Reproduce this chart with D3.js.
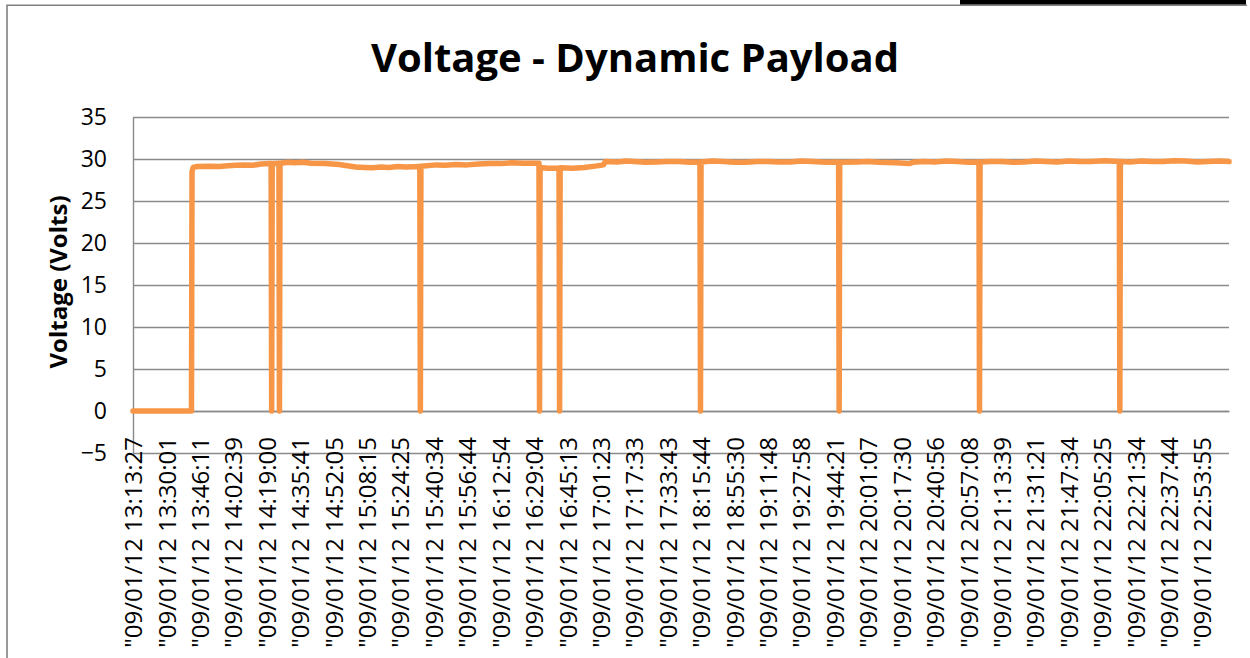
<!DOCTYPE html>
<html>
<head>
<meta charset="utf-8">
<script src="https://cdn.jsdelivr.net/npm/d3@7"></script>
<style>
  html, body { margin: 0; padding: 0; background: #ffffff; }
  svg { display: block; }
  text { font-family: "Open Sans", "Noto Sans", sans-serif; fill: #000; }
</style>
</head>
<body>
<svg id="chart" width="1250" height="658"></svg>
<script>
// ---- data ----
const chartTitle = "Voltage - Dynamic Payload";
const yAxisTitle = "Voltage (Volts)";

// category labels shown on the x axis (one every labelEvery samples)
const timeLabels = [
  '"09/01/12 13:13:27', '"09/01/12 13:30:01', '"09/01/12 13:46:11', '"09/01/12 14:02:39',
  '"09/01/12 14:19:00', '"09/01/12 14:35:41', '"09/01/12 14:52:05', '"09/01/12 15:08:15',
  '"09/01/12 15:24:25', '"09/01/12 15:40:34', '"09/01/12 15:56:44', '"09/01/12 16:12:54',
  '"09/01/12 16:29:04', '"09/01/12 16:45:13', '"09/01/12 17:01:23', '"09/01/12 17:17:33',
  '"09/01/12 17:33:43', '"09/01/12 18:15:44', '"09/01/12 18:55:30', '"09/01/12 19:11:48',
  '"09/01/12 19:27:58', '"09/01/12 19:44:21', '"09/01/12 20:01:07', '"09/01/12 20:17:30',
  '"09/01/12 20:40:56', '"09/01/12 20:57:08', '"09/01/12 21:13:39', '"09/01/12 21:31:21',
  '"09/01/12 21:47:34', '"09/01/12 22:05:25', '"09/01/12 22:21:34', '"09/01/12 22:37:44',
  '"09/01/12 22:53:55'
];
const labelEvery = 60;      // samples between shown category labels
const sampleCount = 1969;   // total samples in the series

const yTicks = [-5, 0, 5, 10, 15, 20, 25, 30, 35];

// voltage readings (sample index -> volts)
const sampleIndex = [
  0, 105, 106, 108, 115, 140, 155, 170, 185, 200, 215, 230, 248, 249, 250, 262, 263, 264,
  280, 290, 305, 320, 345, 370, 385, 400, 415, 430, 445, 460, 475, 490, 515, 516, 517,
  545, 560, 580, 600, 620, 640, 660, 680, 700, 729, 730, 731, 745, 765, 766, 767,
  790, 810, 830, 845, 848, 870, 885, 900, 920, 940, 960, 980, 1000, 1018, 1019, 1020,
  1040, 1060, 1080, 1100, 1120, 1140, 1160, 1180, 1200, 1220, 1245, 1267, 1268, 1269,
  1300, 1320, 1340, 1370, 1394, 1400, 1420, 1440, 1460, 1480, 1500, 1519, 1520, 1521,
  1540, 1560, 1580, 1600, 1620, 1640, 1660, 1680, 1700, 1720, 1745, 1771, 1772, 1773,
  1790, 1810, 1830, 1850, 1870, 1890, 1910, 1930, 1950, 1968
];
const volts = [
  0, 0, 28.5, 29.0, 29.1, 29.15, 29.1, 29.2, 29.25, 29.3, 29.25, 29.4, 29.45, 0, 29.45, 29.5, 0, 29.5,
  29.6, 29.55, 29.6, 29.5, 29.45, 29.35, 29.2, 29.05, 29.0, 28.95, 29.05, 29.0, 29.1, 29.05, 29.1, 0, 29.15,
  29.3, 29.25, 29.35, 29.3, 29.4, 29.45, 29.45, 29.55, 29.5, 29.5, 0, 29.0, 28.9, 28.9, 0, 28.95,
  28.9, 29.0, 29.15, 29.3, 29.7, 29.65, 29.75, 29.7, 29.6, 29.65, 29.7, 29.7, 29.6, 29.65, 0, 29.65,
  29.75, 29.7, 29.6, 29.6, 29.7, 29.7, 29.65, 29.65, 29.75, 29.7, 29.6, 29.65, 0, 29.6,
  29.65, 29.7, 29.6, 29.55, 29.45, 29.6, 29.7, 29.65, 29.75, 29.7, 29.6, 29.65, 0, 29.65,
  29.7, 29.7, 29.6, 29.65, 29.75, 29.7, 29.65, 29.75, 29.7, 29.7, 29.8, 29.7, 0, 29.7,
  29.65, 29.75, 29.7, 29.7, 29.8, 29.75, 29.65, 29.7, 29.75, 29.7
];

// ---- drawing ----
const svg = d3.select("#chart");
const W = 1250, H = 658;
const plot = { left: 133, right: 1229, top: 117, bottom: 453 };
const gridColor = "#8a8a8a";
const lineColor = "#F79646";

// chart border and screenshot artifacts
svg.append("rect").attr("x", 0).attr("y", 0).attr("width", W).attr("height", H).attr("fill", "#fff");
svg.append("path")
  .attr("d", `M7,${H + 2} L7,5.3 L1247,5.3`)
  .attr("fill", "none").attr("stroke", "#808080").attr("stroke-width", 1.6);
svg.append("rect").attr("x", 960).attr("y", 0).attr("width", 286).attr("height", 4.5).attr("fill", "#000");

const x = d3.scaleLinear().domain([0, sampleCount - 1]).range([plot.left, plot.right]);
const y = d3.scaleLinear().domain([d3.min(yTicks), d3.max(yTicks)]).range([plot.bottom, plot.top]);

// gridlines
const yGrid = d3.axisLeft(y).tickValues(yTicks).tickSize(-(plot.right - plot.left)).tickFormat("");
const gGrid = svg.append("g").attr("transform", `translate(${plot.left},0)`).call(yGrid);
gGrid.select(".domain").remove();
gGrid.selectAll("line").attr("stroke", gridColor).attr("stroke-width", 1.4);

// y axis (line + labels)
const yAxis = d3.axisLeft(y).tickValues(yTicks).tickSize(0).tickPadding(26).tickFormat(d3.format("d"));
const gY = svg.append("g").attr("transform", `translate(${plot.left},0)`).call(yAxis);
gY.select(".domain").attr("stroke", gridColor).attr("stroke-width", 1.4);
gY.selectAll("text").style("font-size", "23px").style("font-family", '"Open Sans", sans-serif').attr("fill", "#000");

// x axis at value 0
const xAxis = d3.axisBottom(x)
  .tickValues(timeLabels.map((d, i) => i * labelEvery))
  .tickSize(0)
  .tickFormat((d, i) => timeLabels[i]);
const gX = svg.append("g").attr("transform", `translate(0,${y(0)})`).call(xAxis);
gX.select(".domain").attr("stroke", gridColor).attr("stroke-width", 1.4);
gX.selectAll("text")
  .style("font-size", "24px").style("font-family", '"Open Sans", sans-serif').attr("fill", "#000")
  .attr("text-anchor", "end")
  .attr("transform", "rotate(-90)")
  .attr("x", -26).attr("y", 0).attr("dy", "0.36em");

// series line
const pts = sampleIndex.map((s, i) => [s, volts[i]]);
const line = d3.line().x(d => x(d[0])).y(d => y(d[1]));
svg.append("path")
  .datum(pts)
  .attr("d", line)
  .attr("fill", "none")
  .attr("stroke", lineColor)
  .attr("stroke-width", 5.5)
  .attr("stroke-linejoin", "round")
  .attr("stroke-linecap", "round");

// title
svg.append("text")
  .attr("x", 635).attr("y", 72)
  .attr("text-anchor", "middle")
  .style("font-size", "40px").style("font-weight", "bold")
  .text(chartTitle);

// y axis title
svg.append("text")
  .attr("transform", `translate(59,282) rotate(-90)`)
  .attr("text-anchor", "middle")
  .attr("dy", "0.35em")
  .style("font-size", "24px").style("font-weight", "bold")
  .text(yAxisTitle);
</script>
</body>
</html>
